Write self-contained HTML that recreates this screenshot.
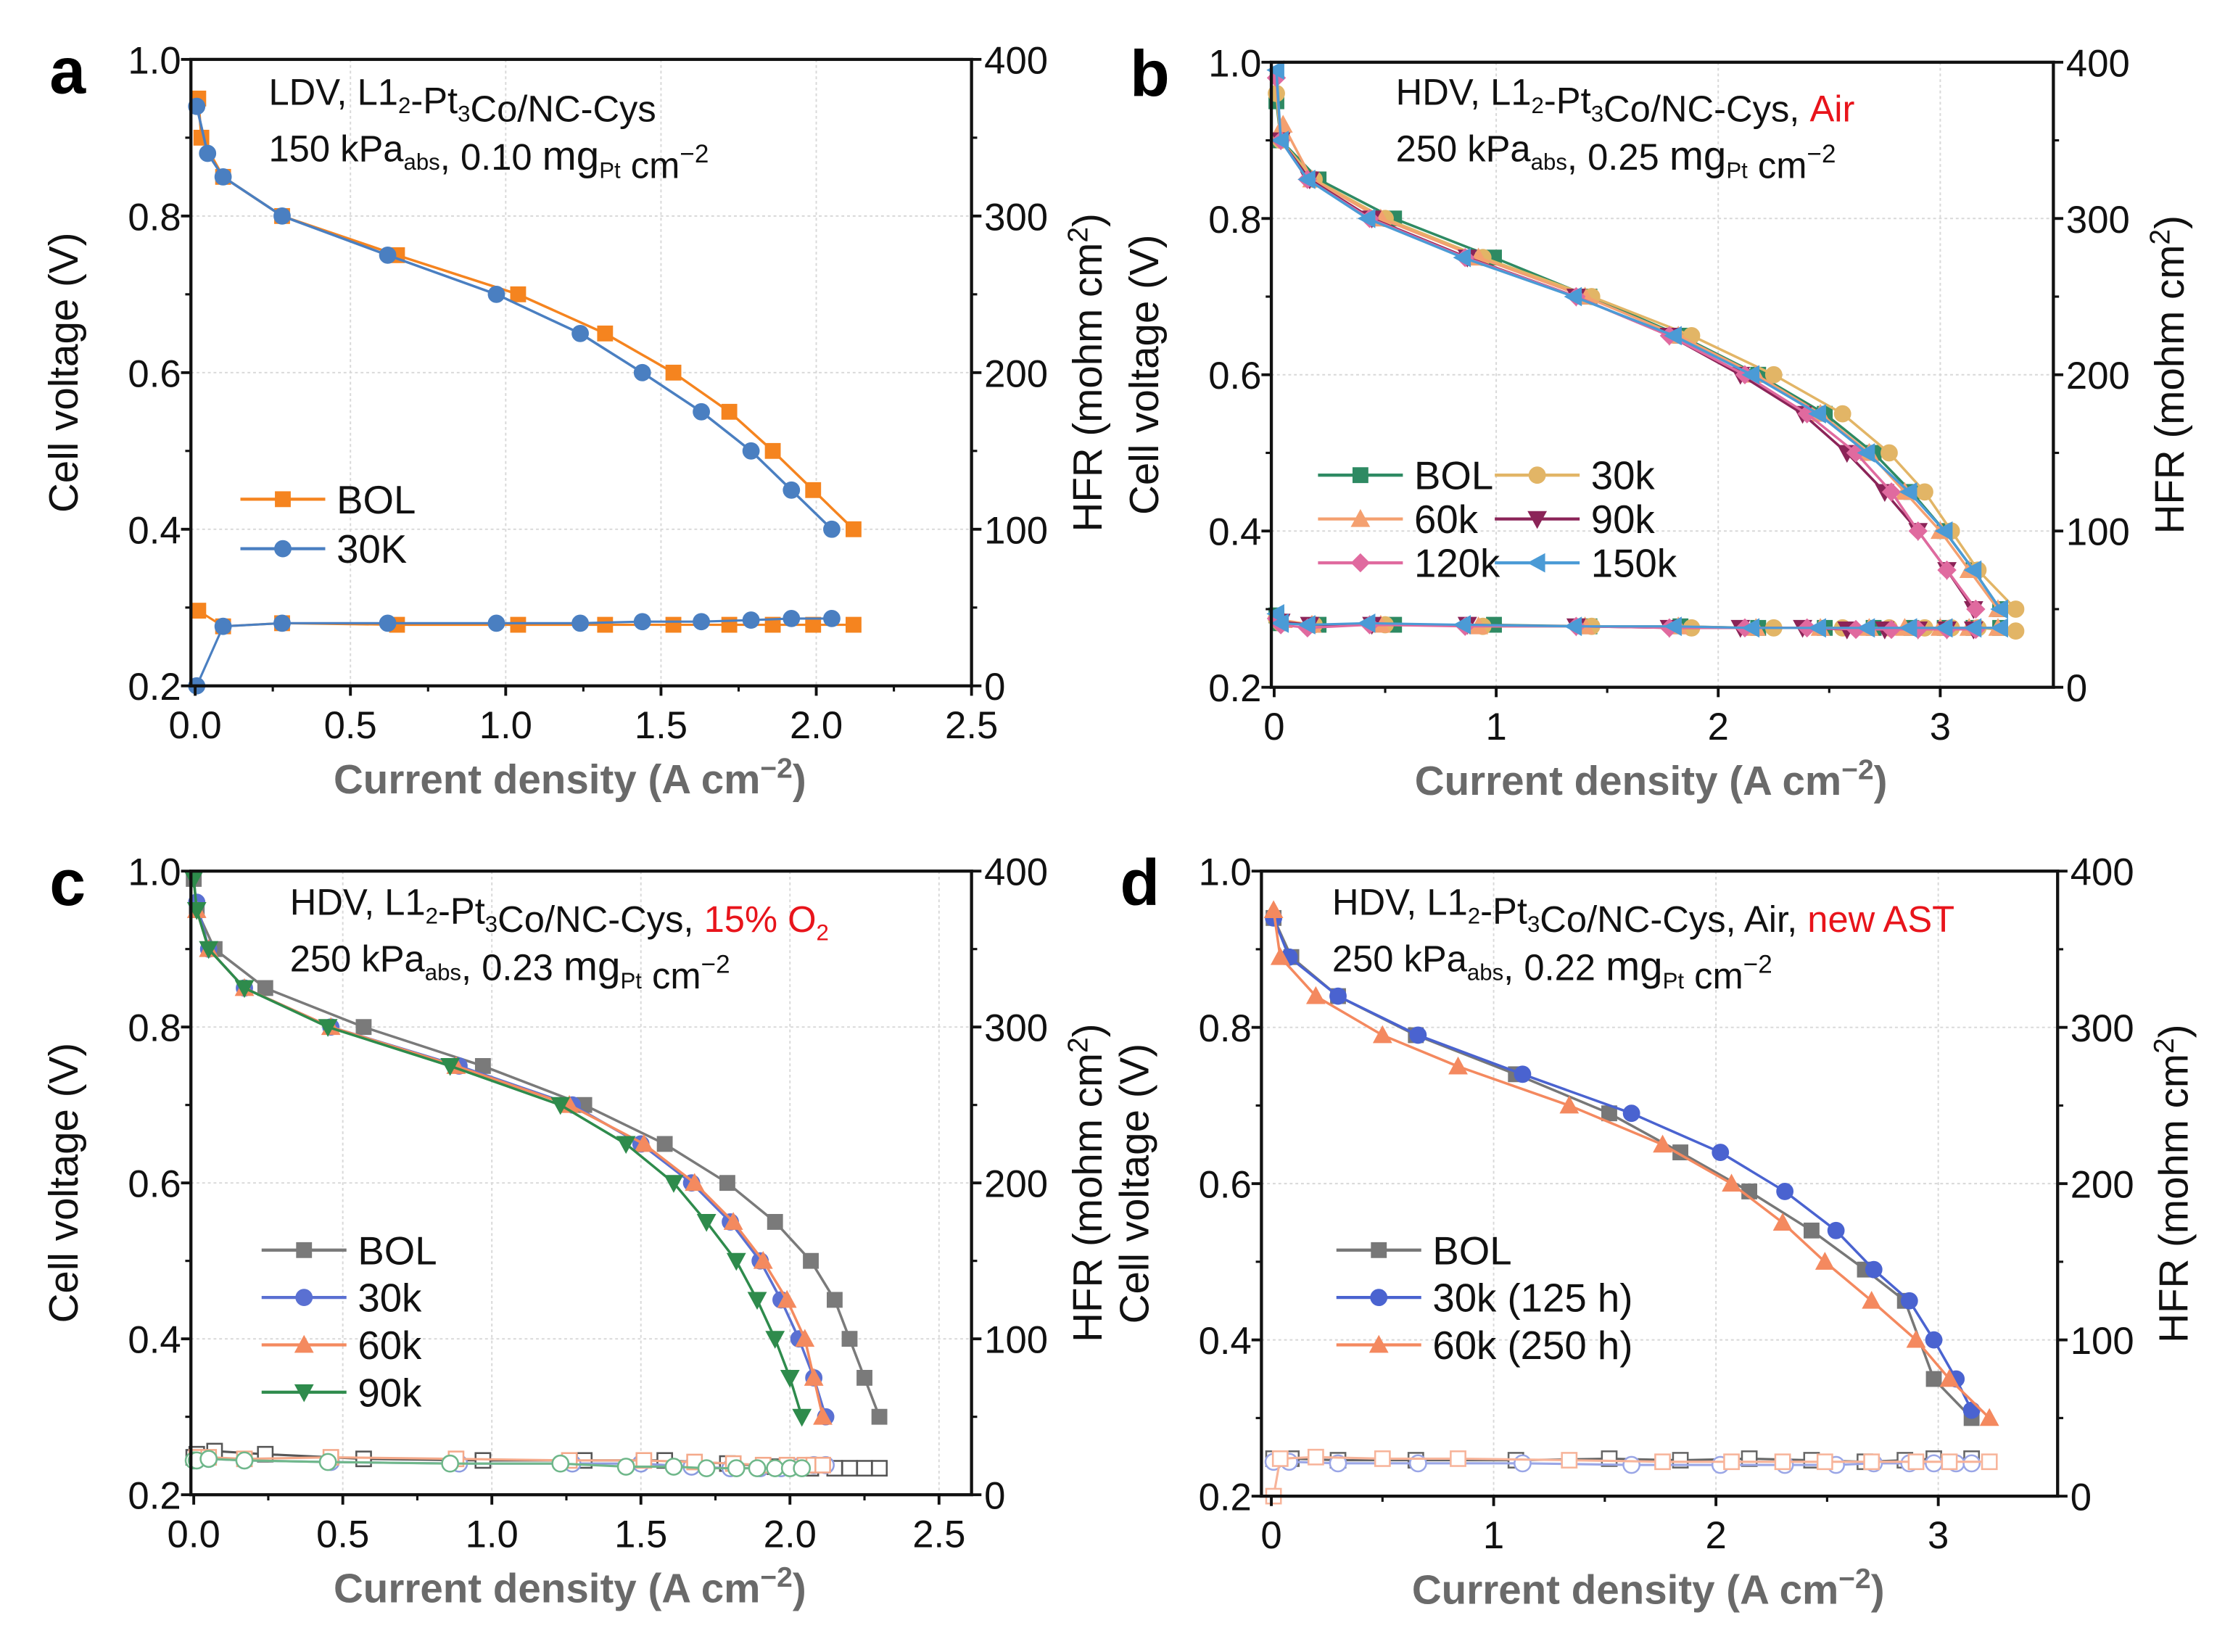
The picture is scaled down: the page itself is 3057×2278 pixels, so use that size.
<!DOCTYPE html>
<html><head><meta charset="utf-8">
<style>
html,body{margin:0;padding:0;background:#fff;}
svg{display:block;font-family:"Liberation Sans",Arial,sans-serif;}
</style></head>
<body>
<svg id="fig" xmlns="http://www.w3.org/2000/svg" width="3057" height="2278" viewBox="0 0 1567.7 1168.2" preserveAspectRatio="none">
<rect x="0" y="0" width="1567.7" height="1168.2" fill="#fff"/>
</svg>
<script>
// ---------- Panel a data ----------
const aBolX=[0.01,0.02,0.09,0.28,0.65,1.04,1.32,1.54,1.72,1.86,1.99,2.12];
const aBolV=[0.95,0.90,0.85,0.80,0.75,0.70,0.65,0.60,0.55,0.50,0.45,0.40];
const a30X=[0.005,0.04,0.09,0.28,0.62,0.97,1.24,1.44,1.63,1.79,1.92,2.05];
const a30V=[0.94,0.88,0.85,0.80,0.75,0.70,0.65,0.60,0.55,0.50,0.45,0.40];
const aBolHx=[0.01,0.09,0.28,0.65,1.04,1.32,1.54,1.72,1.86,1.99,2.12];
const aBolH=[48,38,40,39,39,39,39,39,39,39,39];
const a30Hx=[0.005,0.09,0.28,0.62,0.97,1.24,1.44,1.63,1.79,1.92,2.05];
const a30H=[0,38,40,40,40,40,41,41,42,43,43];
// ---------- Panel b data ----------
const bBolX=[0.01,0.03,0.2,0.54,0.99,1.42,1.83,2.18,2.48,2.70,2.87,3.02,3.15,3.27];
const bBolV=[0.95,0.90,0.85,0.80,0.75,0.70,0.65,0.60,0.55,0.50,0.45,0.40,0.35,0.30];
const b30X=[0.01,0.03,0.18,0.5,0.94,1.43,1.88,2.25,2.56,2.77,2.93,3.05,3.17,3.34];
const b30V=[0.96,0.90,0.85,0.80,0.75,0.70,0.65,0.60,0.55,0.50,0.45,0.40,0.35,0.30];
const b60X=[0.04,0.17,0.48,0.92,1.40,1.82,2.17,2.46,2.68,2.84,3.00,3.13,3.26];
const b60V=[0.92,0.85,0.80,0.75,0.70,0.65,0.60,0.55,0.50,0.45,0.40,0.35,0.30];
const b90X=[0.03,0.16,0.44,0.87,1.36,1.78,2.10,2.38,2.58,2.75,2.90,3.03,3.15];
const b90V=[0.90,0.85,0.80,0.75,0.70,0.65,0.60,0.55,0.50,0.45,0.40,0.35,0.30];
const b120X=[0.01,0.03,0.15,0.43,0.86,1.36,1.78,2.12,2.40,2.62,2.78,2.90,3.03,3.16];
const b120V=[0.98,0.90,0.85,0.80,0.75,0.70,0.65,0.60,0.55,0.50,0.45,0.40,0.35,0.30];
const b150X=[0.01,0.03,0.15,0.42,0.85,1.35,1.80,2.15,2.45,2.67,2.86,3.02,3.15,3.27];
const b150V=[0.99,0.90,0.85,0.80,0.75,0.70,0.65,0.60,0.55,0.50,0.45,0.40,0.35,0.30];
const bBolH=[46,41,40,40,40,39,39,38,38,38,38,38,38,38];
const b30H=[44,41,40,40,39,39,38,38,38,38,38,38,38,36];
const b60H=[43,40,40,39,39,39,38,38,38,38,38,38,38];
const b90H=[42,40,40,40,39,38,38,38,37,37,37,37,37];
const b120H=[44,40,38,40,39,39,38,38,38,37,37,37,37,37];
const b150H=[47,41,40,41,40,39,39,38,38,38,38,38,38,38];
// ---------- Panel c data ----------
const cBolX=[0.0,0.01,0.07,0.24,0.57,0.97,1.31,1.58,1.79,1.95,2.07,2.15,2.20,2.25,2.30];
const cBolV=[0.99,0.95,0.90,0.85,0.80,0.75,0.70,0.65,0.60,0.55,0.50,0.45,0.40,0.35,0.30];
const c30X=[0.01,0.05,0.17,0.46,0.89,1.27,1.50,1.67,1.80,1.90,1.97,2.03,2.08,2.12];
const c30V=[0.96,0.90,0.85,0.80,0.75,0.70,0.65,0.60,0.55,0.50,0.45,0.40,0.35,0.30];
const c60X=[0.01,0.05,0.17,0.46,0.88,1.26,1.51,1.68,1.81,1.91,1.99,2.05,2.08,2.11];
const c60V=[0.95,0.90,0.85,0.80,0.75,0.70,0.65,0.60,0.55,0.50,0.45,0.40,0.35,0.30];
const c90X=[0.0,0.01,0.05,0.17,0.45,0.86,1.23,1.45,1.61,1.72,1.82,1.89,1.95,2.00,2.04];
const c90V=[0.99,0.95,0.90,0.85,0.80,0.75,0.70,0.65,0.60,0.55,0.50,0.45,0.40,0.35,0.30];
const cBolH=[24,26,28,26,23,22,22,22,20,18,17,17,17,17,17];
const c30H=[22,23,22,21,20,20,20,18,17,17,17,18,19,19];
const c60H=[24,24,23,24,23,22,22,21,20,19,19,19,19,19];
const c90H=[22,22,23,22,21,20,20,18,18,17,17,17,17,17,17];
// ---------- Panel d data ----------
const dBolX=[0.01,0.09,0.30,0.65,1.10,1.52,1.84,2.15,2.43,2.67,2.85,2.98,3.15];
const dBolV=[0.94,0.89,0.84,0.79,0.74,0.69,0.64,0.59,0.54,0.49,0.45,0.35,0.30];
const d30X=[0.01,0.08,0.30,0.66,1.13,1.62,2.02,2.31,2.54,2.71,2.87,2.98,3.08,3.15];
const d30V=[0.94,0.89,0.84,0.79,0.74,0.69,0.64,0.59,0.54,0.49,0.45,0.40,0.35,0.31];
const d60X=[0.01,0.04,0.20,0.50,0.84,1.34,1.76,2.07,2.30,2.49,2.70,2.90,3.05,3.23];
const d60V=[0.95,0.89,0.84,0.79,0.75,0.70,0.65,0.60,0.55,0.50,0.45,0.40,0.35,0.30];
const dBolH=[24,24,23,23,23,24,23,24,23,22,23,24,24];
const d30H=[22,22,21,21,21,20,20,20,20,21,21,21,21,21];
const d60H=[0,24,25,24,24,23,22,22,22,22,22,22,22,22];

const NS="http://www.w3.org/2000/svg";
const fig=document.getElementById('fig');
function el(tag,attrs,parent){const e=document.createElementNS(NS,tag);for(const k in attrs)e.setAttribute(k,attrs[k]);(parent||fig).appendChild(e);return e;}

function marker(g,shape,x,y,color,open){
  const s=5.2;let m;
  const fill=open?'#fff':color;
  const st={fill:fill,stroke:color,'stroke-width':open?1.3:0.8};
  if(shape==='sq'){m=el('rect',Object.assign({x:x-s,y:y-s,width:2*s,height:2*s},st),g);}
  else if(shape==='ci'){m=el('circle',Object.assign({cx:x,cy:y,r:s+0.5},st),g);}
  else{
    let p;
    if(shape==='tu')p=[[x,y-s-1],[x+s+1,y+s],[x-s-1,y+s]];
    if(shape==='td')p=[[x,y+s+1],[x+s+1,y-s],[x-s-1,y-s]];
    if(shape==='di')p=[[x,y-s-1],[x+s+1,y],[x,y+s+1],[x-s-1,y]];
    if(shape==='tl')p=[[x-s-1,y],[x+s,y-s-1],[x+s,y+s+1]];
    m=el('polygon',Object.assign({points:p.map(q=>q.join(',')).join(' ')},st),g);
  }
  
  
}

function panel(P){
  const g=el('g',{});
  
  
  const sx=v=>P.x0+v*P.xu;
  const sy=v=>P.top+(1.0-v)/0.8*(P.bot-P.top);
  const sh=h=>P.bot-h/400*(P.bot-P.top);
  for(const t of P.xt){const x=sx(t);if(t>0&&x<P.R-3){const l=el('line',{x1:x,y1:P.top,x2:x,y2:P.bot,stroke:'#d8d8d8','stroke-width':1,'stroke-dasharray':'2,2'},g);}}
  for(const t of [0.4,0.6,0.8]){const y=sy(t);const l=el('line',{x1:P.L,y1:y,x2:P.R,y2:y,stroke:'#d8d8d8','stroke-width':1,'stroke-dasharray':'2,2'},g);}
  for(const S of P.series){
    const sg=el('g',{},g);
    
    
    const hc=P.openH?S.hcol:S.color;
    const hp=el('polyline',{points:S.hx.map((x,i)=>sx(x)+','+sh(S.h[i])).join(' '),fill:'none',stroke:hc,'stroke-width':1.6},sg);
    
    for(let i=0;i<S.hx.length;i++)marker(sg,P.openH?(S.hshape||'sq'):S.shape,sx(S.hx[i]),sh(S.h[i]),hc,P.openH);
    const vp=el('polyline',{points:S.x.map((x,i)=>sx(x)+','+sy(S.v[i])).join(' '),fill:'none',stroke:S.color,'stroke-width':1.8},sg);
    
    for(let i=0;i<S.x.length;i++)marker(sg,S.shape,sx(S.x[i]),sy(S.v[i]),S.color,false);
  }
  const fr=el('rect',{x:P.L,y:P.top,width:P.R-P.L,height:P.bot-P.top,fill:'none',stroke:'#111','stroke-width':2.2},g);
  
  P.xt.forEach((t,i)=>{const x=sx(t);el('line',{x1:x,y1:P.bot,x2:x,y2:P.bot+7,stroke:'#111','stroke-width':2},g);
    const tx=el('text',{x:x,y:P.bot+37,'font-size':27,'text-anchor':'middle',fill:'#111'},g);tx.textContent=P.xl[i];
    
    if(i<P.xt.length-1){const xm=sx((t+P.xt[i+1])/2);if(xm<P.R)el('line',{x1:xm,y1:P.bot,x2:xm,y2:P.bot+4,stroke:'#111','stroke-width':1.6},g);}
  });
  const yl=['0.2','0.4','0.6','0.8','1.0'],hl=['0','100','200','300','400'];
  [0.2,0.4,0.6,0.8,1.0].forEach((t,i)=>{const y=sy(t);
    el('line',{x1:P.L-7,y1:y,x2:P.L,y2:y,stroke:'#111','stroke-width':2},g);
    el('line',{x1:P.R,y1:y,x2:P.R+7,y2:y,stroke:'#111','stroke-width':2},g);
    const a=el('text',{x:P.L-7,y:y+10,'font-size':27,'text-anchor':'end',fill:'#111'},g);a.textContent=yl[i];
    
    const b=el('text',{x:P.R+9,y:y+10,'font-size':27,'text-anchor':'start',fill:'#111'},g);b.textContent=hl[i];
    
    if(t<1){const ym=sy(t+0.1);el('line',{x1:P.L-4,y1:ym,x2:P.L,y2:ym,stroke:'#111','stroke-width':1.6},g);el('line',{x1:P.R,y1:ym,x2:P.R+4,y2:ym,stroke:'#111','stroke-width':1.6},g);}
  });
  const cy=(P.top+P.bot)/2;
  const lt=el('text',{x:0,y:0,'font-size':29,'text-anchor':'middle',fill:'#111',transform:`translate(${P.L-80},${cy}) rotate(-90)`},g);
  lt.textContent='Cell voltage (V)';
  const rt=el('text',{x:0,y:0,'font-size':29,'text-anchor':'middle',fill:'#111',transform:`translate(${P.R+92},${cy}) rotate(-90)`},g);
  rt.innerHTML='HFR (mohm cm<tspan font-size="20" dy="-10">2</tspan><tspan dy="10">)</tspan>';
  
  const xt=el('text',{x:(P.L+P.R)/2-8,y:P.bot+76,'font-size':29,'font-weight':'bold','text-anchor':'middle',fill:'#6a6a6a'},g);
  xt.innerHTML='Current density (A cm<tspan font-size="20" dy="-11">−2</tspan><tspan dy="11">)</tspan>';
  
  const lab=el('text',{x:P.L-100,y:P.top+24,'font-size':46,'font-weight':'bold',fill:'#000'},g);
  lab.textContent=P.id;
  const a1=el('text',{x:P.ann[0],y:P.ann[1],'font-size':26,fill:'#111'},g);a1.innerHTML=P.line1;
  
  const a2=el('text',{x:P.ann[0],y:P.ann[1]+40,'font-size':26,fill:'#111'},g);a2.innerHTML=P.line2;
  
  P.series.forEach((S,i)=>{
    const lx=P.leg[0]+(P.legCols? (i%2)*P.legColW:0);
    const ly=P.leg[1]+(P.legCols? Math.floor(i/2):i)*P.legDy;
    const lg=el('g',{},g);
    el('line',{x1:lx,y1:ly,x2:lx+60,y2:ly,stroke:S.color,'stroke-width':2.2},lg);
    marker(lg,S.shape,lx+30,ly,S.color,false);
    const t=el('text',{x:lx+68,y:ly+10,'font-size':28,fill:'#111'},lg);t.textContent=S.name;
  });
}

const sub=(t)=>`<tspan font-size="16" dy="6">${t}</tspan><tspan dy="-6"></tspan>`;
const sup=(t)=>`<tspan font-size="18" dy="-11">${t}</tspan><tspan dy="11"></tspan>`;
const l1=(extra)=>`HDV, L1${sub('2')}-Pt${sub('3')}Co/NC-Cys${extra}`;
const mg=`<tspan font-size="29">mg</tspan>`;

panel({id:'a',L:135,R:687,top:42,bot:485,x0:138,xu:219.6,xt:[0,0.5,1,1.5,2,2.5],xl:['0.0','0.5','1.0','1.5','2.0','2.5'],
  ann:[190,74],line1:`LDV, L1${sub('2')}-Pt${sub('3')}Co/NC-Cys`,line2:`150 kPa${sub('abs')}, 0.10 ${mg}${sub('Pt')} cm${sup('−2')}`,
  leg:[170,353],legDy:35,
  series:[{name:'BOL',color:'#f5841f',shape:'sq',x:aBolX,v:aBolV,hx:aBolHx,h:aBolH},
          {name:'30K',color:'#4a7fc1',shape:'ci',x:a30X,v:a30V,hx:a30Hx,h:a30H}]});

panel({id:'b',L:899,R:1452,top:44,bot:486,x0:901,xu:157,xt:[0,1,2,3],xl:['0','1','2','3'],
  ann:[987,74],line1:l1(', <tspan fill="#e8141b">Air</tspan>'),line2:`250 kPa${sub('abs')}, 0.25  ${mg}${sub('Pt')} cm${sup('−2')}`,
  leg:[932,336],legDy:31,legCols:true,legColW:125,
  series:[{name:'BOL',color:'#2e8a63',shape:'sq',x:bBolX,v:bBolV,hx:bBolX,h:bBolH},
          {name:'30k',color:'#e2b566',shape:'ci',x:b30X,v:b30V,hx:b30X,h:b30H},
          {name:'60k',color:'#f4a070',shape:'tu',x:b60X,v:b60V,hx:b60X,h:b60H},
          {name:'90k',color:'#8b2458',shape:'td',x:b90X,v:b90V,hx:b90X,h:b90H},
          {name:'120k',color:'#e06a9f',shape:'di',x:b120X,v:b120V,hx:b120X,h:b120H},
          {name:'150k',color:'#4b9bd6',shape:'tl',x:b150X,v:b150V,hx:b150X,h:b150H}]});

panel({id:'c',L:135,R:687,top:616,bot:1057,x0:137,xu:210.8,xt:[0,0.5,1,1.5,2,2.5],xl:['0.0','0.5','1.0','1.5','2.0','2.5'],
  ann:[205,647],line1:l1(', <tspan fill="#e8141b">15% O</tspan><tspan fill="#e8141b" font-size="16" dy="6">2</tspan>'),line2:`250 kPa${sub('abs')}, 0.23 ${mg}${sub('Pt')} cm${sup('−2')}`,
  leg:[185,884],legDy:33.5,openH:true,
  series:[{name:'BOL',color:'#7a7a7a',hcol:'#555',shape:'sq',hshape:'sq',x:cBolX,v:cBolV,hx:cBolX,h:cBolH},
          {name:'30k',color:'#5a70d2',hcol:'#8d9ce0',shape:'ci',hshape:'ci',x:c30X,v:c30V,hx:c30X,h:c30H},
          {name:'60k',color:'#f48a5f',hcol:'#f4a98a',shape:'tu',hshape:'sq',x:c60X,v:c60V,hx:c60X,h:c60H},
          {name:'90k',color:'#2e8b4c',hcol:'#6fb78a',shape:'td',hshape:'ci',x:c90X,v:c90V,hx:c90X,h:c90H}]});

panel({id:'d',L:892,R:1455,top:616,bot:1058,x0:899,xu:157.2,xt:[0,1,2,3],xl:['0','1','2','3'],
  ann:[942,647],line1:l1(', Air, <tspan fill="#e8141b">new AST</tspan>'),line2:`250 kPa${sub('abs')}, 0.22  ${mg}${sub('Pt')} cm${sup('−2')}`,
  leg:[945,884],legDy:33.5,openH:true,
  series:[{name:'BOL',color:'#777',hcol:'#666',shape:'sq',hshape:'sq',x:dBolX,v:dBolV,hx:dBolX,h:dBolH},
          {name:'30k (125 h)',color:'#4a63d0',hcol:'#9aa6e6',shape:'ci',hshape:'ci',x:d30X,v:d30V,hx:d30X,h:d30H},
          {name:'60k (250 h)',color:'#f4895f',hcol:'#f7b49a',shape:'tu',hshape:'sq',x:d60X,v:d60V,hx:d60X,h:d60H}]});
</script>
</body></html>
